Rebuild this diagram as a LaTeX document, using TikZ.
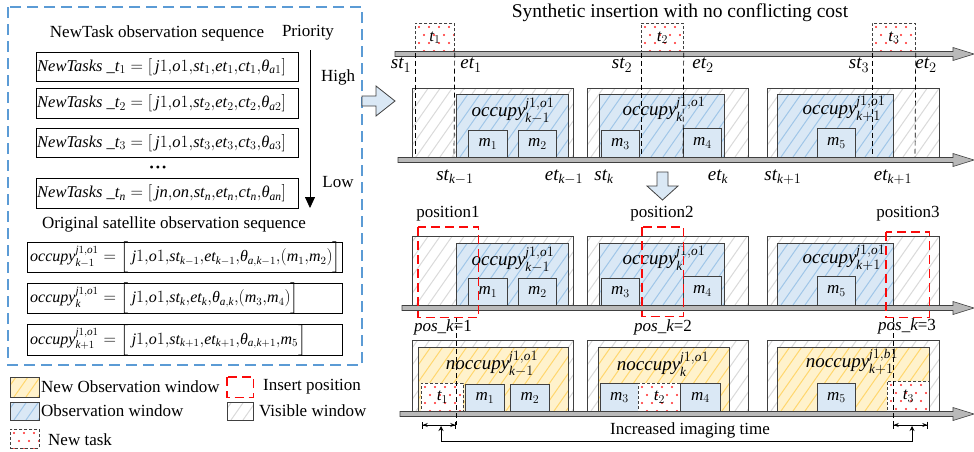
\documentclass[tikz,border=0pt]{standalone}
\usepackage{amsmath}
\usepackage{fontspec}
\setmainfont{Liberation Serif}
\usetikzlibrary{arrows.meta}
\definecolor{obsfill}{RGB}{218,232,245}
\definecolor{obsline}{RGB}{160,198,232}
\definecolor{newfill}{RGB}{255,242,204}
\definecolor{newline}{RGB}{255,215,110}
\definecolor{visline}{RGB}{218,218,218}
\definecolor{outerblue}{RGB}{91,155,213}
\definecolor{arrfill}{RGB}{218,232,245}
\definecolor{edgegray}{RGB}{64,64,64}
\definecolor{insred}{RGB}{250,10,10}
\definecolor{dotred}{RGB}{255,40,40}
\newcommand\vi[1]{\textit{#1}}
\newcommand\cm{{,}}
\newcommand\bxn[7]{\node[#2,anchor=north west,inner sep=0pt,minimum width={(#5-#3)*1pt},minimum height={(#6-#4)*1pt}] (#1) at (#3,#4) {#7};}
\newcommand\hatchbg[6]{%
  \fill[#5] (#1,#2) rectangle (#3,#4);
  \begin{scope}
    \clip (#1,#2) rectangle (#3,#4);
    \foreach \s in {-80,-68,...,190} \draw[#6,line width=1pt] ({#1+\s},{#4}) -- ++(70,-100);
  \end{scope}}
\newcommand\dotbg[4]{%
  \fill[white] (#1,#2) rectangle (#3,#4);
  \begin{scope}
    \clip (#1,#2) rectangle (#3,#4);
    \foreach \r in {0,1,...,4} \foreach \c in {0,1,...,5} \fill[dotred] ({#1+4+\c*10+mod(\r,2)*5},{#2+4+\r*8}) circle (1.1pt);
  \end{scope}}
\newcommand\axisbar[2]{\draw[axisst] ({#1},{#2-2.5}) -- (953,{#2-2.5}) -- (953,{#2-6.5}) -- (974,{#2}) -- (953,{#2+6.5}) -- (953,{#2+2.5}) -- ({#1},{#2+2.5}) -- cycle;}
\tikzset{
  plainbox/.style={draw=black,line width=0.8pt},
  winedge/.style={draw=edgegray,line width=0.7pt},
  mbox/.style={draw=edgegray,line width=0.7pt,fill=obsfill},
  ntask/.style={draw=edgegray,dash pattern=on 3pt off 2pt,line width=0.7pt},
  insarea/.style={inner sep=0pt},
  insline/.style={color=insred,dash pattern=on 9pt off 5pt,line width=1.5pt},
  vdash/.style={draw=black,dash pattern=on 5pt off 3pt,line width=0.7pt},
  axisst/.style={draw=edgegray,fill=gray!55,line width=0.6pt},
  blockarr/.style={draw=edgegray,fill=arrfill,line width=0.8pt},
  big/.style={font=\fontsize{19}{22}\selectfont},
  eqn/.style={anchor=west,inner sep=1pt,font=\fontsize{16.5}{20}\selectfont},
  eqo/.style={anchor=west,inner sep=1pt,font=\fontsize{16}{20}\selectfont},
}
\begin{document}
\begin{tikzpicture}[x=1pt,y=-1pt,font=\fontsize{17}{20}\selectfont]
\useasboundingbox (0,0) rectangle (974,451);
% ---------- left panel ----------
\draw[outerblue,line width=1.3pt,dash pattern=on 11pt off 6pt] (8,7) rectangle (362,365);
\node (ntseq) at (157,33) {NewTask observation sequence};
\node (prio) at (308,33) {Priority};
\bxn{nt1}{plainbox}{36}{52}{298}{81}{}
\bxn{nt2}{plainbox}{36}{88}{298}{118}{}
\bxn{nt3}{plainbox}{36}{128}{298}{157}{}
\bxn{ntn}{plainbox}{36}{178}{298}{208}{}
\node[eqn] (nt1t) at (nt1.west) {$\vi{NewTasks}\ \_\vi{t}_1=[\,\vi{j}1\cm\vi{o}1\cm\vi{st}_1\cm\vi{et}_1\cm\vi{ct}_1\cm\vi{θ}_{\vi{a}1}]$};
\node[eqn] (nt2t) at (nt2.west) {$\vi{NewTasks}\ \_\vi{t}_2=[\,\vi{j}1\cm\vi{o}1\cm\vi{st}_2\cm\vi{et}_2\cm\vi{ct}_2\cm\vi{θ}_{\vi{a}2}]$};
\node[eqn] (nt3t) at (nt3.west) {$\vi{NewTasks}\ \_\vi{t}_3=[\,\vi{j}1\cm\vi{o}1\cm\vi{st}_3\cm\vi{et}_3\cm\vi{ct}_3\cm\vi{θ}_{\vi{a}3}]$};
\node[eqn] (ntnt) at (ntn.west) {$\vi{NewTasks}\ \_\vi{t}_{\vi{n}}=[\,\vi{jn}\cm\vi{on}\cm\vi{st}_{\vi{n}}\cm\vi{et}_{\vi{n}}\cm\vi{ct}_{\vi{n}}\cm\vi{θ}_{\vi{an}}]$};
\node[font=\fontsize{12}{12}\selectfont,inner sep=0pt] (dots) at (158,169) {•\,•\,•};
\coordinate (ptop) at (310,50);
\coordinate (pbot) at (310,208);
\draw[line width=0.8pt,-{Triangle[length=11pt,width=10pt]}] (ptop) -- (pbot);
\node (high) at (338,77) {High};
\node (low) at (338,182) {Low};
\node[inner sep=1pt] (origseq) at (174,224) {Original satellite observation sequence};
\bxn{oc1}{plainbox}{27}{242}{342}{272}{}
\bxn{oc2}{plainbox}{27}{283}{342}{313}{}
\bxn{oc3}{plainbox}{27}{324}{342}{355}{}
\node[eqo] (oc1t) at ([xshift=2pt]oc1.west) {$\vi{occupy}^{\vi{j}1\cm\vi{o}1}_{\vi{k}-1}=\Big[\,\vi{j}1\cm\vi{o}1\cm\vi{st}_{\vi{k}-1}\cm\vi{et}_{\vi{k}-1}\cm\vi{θ}_{\vi{a}\cm\vi{k}-1}\cm(\vi{m}_1\cm\vi{m}_2)\Big]$};
\node[eqo] (oc2t) at ([xshift=2pt]oc2.west) {$\vi{occupy}^{\vi{j}1\cm\vi{o}1}_{\vi{k}}=\Big[\,\vi{j}1\cm\vi{o}1\cm\vi{st}_{\vi{k}}\cm\vi{et}_{\vi{k}}\cm\vi{θ}_{\vi{a}\cm\vi{k}}\cm(\vi{m}_3\cm\vi{m}_4)\Big]$};
\node[eqo] (oc3t) at ([xshift=2pt]oc3.west) {$\vi{occupy}^{\vi{j}1\cm\vi{o}1}_{\vi{k}+1}=\Big[\,\vi{j}1\cm\vi{o}1\cm\vi{st}_{\vi{k}+1}\cm\vi{et}_{\vi{k}+1}\cm\vi{θ}_{\vi{a}\cm\vi{k}+1}\cm\vi{m}_5\Big]$};
% legend
\hatchbg{10}{377}{39}{397}{newfill}{newline}
\bxn{lg1}{winedge}{10}{377}{39}{397}{}
\node[anchor=west,inner sep=1pt] (lg1t) at (40,387) {New Observation window};
\bxn{lg2}{insarea}{227}{377}{253}{397}{}
\node[anchor=west,inner sep=1pt] (lg2t) at (262,387) {Insert position};
\hatchbg{10}{402}{39}{420}{obsfill}{obsline}
\bxn{lg3}{winedge}{10}{402}{39}{420}{}
\node[anchor=west,inner sep=1pt] (lg3t) at (40,411) {Observation window};
\hatchbg{227}{402}{253}{420}{white}{visline}
\bxn{lg4}{winedge}{227}{402}{253}{420}{}
\node[anchor=west,inner sep=1pt] (lg4t) at (258,411) {Visible window};
\dotbg{10}{429}{39}{448}
\bxn{lg5}{ntask}{10}{429}{39}{448}{}
\node[anchor=west,inner sep=1pt] (lg5t) at (47,440) {New task};
% big arrows
\draw[blockarr] (362,96) -- (376,96) -- (376,86) -- (395,101) -- (376,116) -- (376,106) -- (362,106) -- cycle;
\draw[blockarr] (657,172) -- (668,172) -- (668,186) -- (678,186) -- (662.5,200) -- (647,186) -- (657,186) -- cycle;
% ---------- title and top axis ----------
\node[font=\fontsize{19.5}{22}\selectfont] (title) at (680,13) {Synthetic insertion with no conflicting cost};
\dotbg{415}{23}{454}{52}
\dotbg{641}{23}{683}{52}
\dotbg{872}{23}{915}{52}
\bxn{t1}{ntask}{415}{23}{454}{52}{$\vi{t}_1$}
\bxn{t2}{ntask}{641}{23}{683}{52}{$\vi{t}_2$}
\bxn{t3}{ntask}{872}{23}{915}{52}{$\vi{t}_3$}
\axisbar{395}{54}
\node[big] (st1) at (401,65) {$\vi{st}_1$};
\node[big] (et1) at (471,65) {$\vi{et}_1$};
\node[big] (st2) at (622,65) {$\vi{st}_2$};
\node[big] (et2) at (703,65) {$\vi{et}_2$};
\node[big] (st3) at (859,65) {$\vi{st}_3$};
\node[big] (et2b) at (926,65) {$\vi{et}_2$};
% ---------- row 1 ----------
\hatchbg{412}{88}{573}{157}{white}{visline}
\hatchbg{587}{88}{748}{157}{white}{visline}
\hatchbg{767}{88}{939}{157}{white}{visline}
\bxn{wa1}{winedge}{412}{88}{573}{157}{}
\bxn{wa2}{winedge}{587}{88}{748}{157}{}
\bxn{wa3}{winedge}{767}{88}{939}{157}{}
\hatchbg{456}{94}{568}{157}{obsfill}{obsline}
\hatchbg{599}{94}{724}{157}{obsfill}{obsline}
\hatchbg{777}{94}{893}{157}{obsfill}{obsline}
\bxn{oa1}{winedge}{456}{94}{568}{157}{}
\bxn{oa2}{winedge}{599}{94}{724}{157}{}
\bxn{oa3}{winedge}{777}{94}{893}{157}{}
\bxn{ma1}{mbox}{468}{130}{507}{157}{$\vi{m}_1$}
\bxn{ma2}{mbox}{518}{130}{556}{157}{$\vi{m}_2$}
\bxn{ma3}{mbox}{601}{130}{639}{157}{$\vi{m}_3$}
\bxn{ma4}{mbox}{683}{128}{721}{157}{$\vi{m}_4$}
\bxn{ma5}{mbox}{817}{128}{855}{157}{$\vi{m}_5$}
\node[big,inner sep=1pt] (la1) at (513,111) {$\vi{occupy}^{\vi{j}1\cm\vi{o}1}_{\vi{k}-1}$};
\node[big,inner sep=1pt] (la2) at (664,109) {$\vi{occupy}^{\vi{j}1\cm\vi{o}1}_{\vi{k}}$};
\node[big,inner sep=1pt] (la3) at (844,109) {$\vi{occupy}^{\vi{j}1\cm\vi{o}1}_{\vi{k}+1}$};
\draw[vdash] (t1.south west) -- (415,157);
\draw[vdash] (t1.south east) -- (454,157);
\draw[vdash] (t2.south west) -- (641,157);
\draw[vdash] (t2.south east) -- (683,157);
\draw[vdash] (t3.south west) -- (872,157);
\draw[vdash] (t3.south east) -- (915,163);
\axisbar{398}{160}
\node[big] (skm) at (455,177) {$\vi{st}_{\vi{k}-1}$};
\node[big] (ekm) at (564,177) {$\vi{et}_{\vi{k}-1}$};
\node[big] (sk) at (604,177) {$\vi{st}_{\vi{k}}$};
\node[big] (ek) at (718,177) {$\vi{et}_{\vi{k}}$};
\node[big] (skp) at (783,177) {$\vi{st}_{\vi{k}+1}$};
\node[big] (ekp) at (893,177) {$\vi{et}_{\vi{k}+1}$};
% ---------- row 2 ----------
\node (pos1) at (448,214) {position1};
\node (pos2) at (662,214) {position2};
\node (pos3) at (908,214) {position3};
\hatchbg{412}{236}{573}{305}{white}{visline}
\hatchbg{587}{236}{748}{305}{white}{visline}
\hatchbg{767}{236}{939}{305}{white}{visline}
\bxn{wb1}{winedge}{412}{236}{573}{305}{}
\bxn{wb2}{winedge}{587}{236}{748}{305}{}
\bxn{wb3}{winedge}{767}{236}{939}{305}{}
\hatchbg{456}{243}{568}{305}{obsfill}{obsline}
\hatchbg{599}{243}{724}{305}{obsfill}{obsline}
\hatchbg{777}{243}{893}{305}{obsfill}{obsline}
\bxn{ob1}{winedge}{456}{243}{568}{305}{}
\bxn{ob2}{winedge}{599}{243}{724}{305}{}
\bxn{ob3}{winedge}{777}{243}{893}{305}{}
\bxn{mb1}{mbox}{468}{278}{507}{305}{$\vi{m}_1$}
\bxn{mb2}{mbox}{518}{278}{556}{305}{$\vi{m}_2$}
\bxn{mb3}{mbox}{601}{278}{639}{305}{$\vi{m}_3$}
\bxn{mb4}{mbox}{683}{276}{721}{305}{$\vi{m}_4$}
\bxn{mb5}{mbox}{817}{276}{855}{305}{$\vi{m}_5$}
\node[big,inner sep=1pt] (lb1) at (513,260) {$\vi{occupy}^{\vi{j}1\cm\vi{o}1}_{\vi{k}-1}$};
\node[big,inner sep=1pt] (lb2) at (664,258) {$\vi{occupy}^{\vi{j}1\cm\vi{o}1}_{\vi{k}}$};
\node[big,inner sep=1pt] (lb3) at (844,258) {$\vi{occupy}^{\vi{j}1\cm\vi{o}1}_{\vi{k}+1}$};
\axisbar{402}{308}
\bxn{ip1}{insarea}{418}{227}{478}{317}{}
\bxn{ip2}{insarea}{642}{227}{683}{316}{}
\bxn{ip3}{insarea}{886}{232}{929}{317}{}
\node (pk1) at (443,327) {$\vi{pos}\_\vi{k}$=1};
\node (pk2) at (663,327) {$\vi{pos}\_\vi{k}$=2};
\node (pk3) at (907,326) {$\vi{pos}\_\vi{k}$=3};
% ---------- row 3 ----------
\hatchbg{412}{340}{573}{411}{white}{visline}
\hatchbg{587}{340}{748}{411}{white}{visline}
\hatchbg{767}{340}{939}{411}{white}{visline}
\bxn{wc1}{winedge}{412}{340}{573}{411}{}
\bxn{wc2}{winedge}{587}{340}{748}{411}{}
\bxn{wc3}{winedge}{767}{340}{939}{411}{}
\hatchbg{418}{347}{568}{411}{newfill}{newline}
\hatchbg{598}{347}{729}{411}{newfill}{newline}
\hatchbg{777}{347}{929}{411}{newfill}{newline}
\bxn{yc1}{winedge}{418}{347}{568}{411}{}
\bxn{yc2}{winedge}{598}{347}{729}{411}{}
\bxn{yc3}{winedge}{777}{347}{929}{411}{}
\bxn{mc1}{mbox}{465}{384}{504}{411}{$\vi{m}_1$}
\bxn{mc2}{mbox}{510}{384}{549}{411}{$\vi{m}_2$}
\bxn{mc3}{mbox}{600}{383}{638}{411}{$\vi{m}_3$}
\bxn{mc4}{mbox}{680}{383}{720}{411}{$\vi{m}_4$}
\bxn{mc5}{mbox}{817}{383}{855}{411}{$\vi{m}_5$}
\dotbg{421}{383}{463}{411}
\dotbg{638}{383}{680}{411}
\dotbg{887}{381}{929}{411}
\bxn{tc1}{ntask}{421}{383}{463}{411}{$\vi{t}_1$}
\bxn{tc2}{ntask}{638}{383}{680}{411}{$\vi{t}_2$}
\bxn{tc3}{ntask}{887}{381}{929}{411}{$\vi{t}_3$}
\node[big,inner sep=1pt] (lc1) at (492,364) {$\vi{noccupy}^{\vi{j}1\cm\vi{o}1}_{\vi{k}-1}$};
\node[big,inner sep=1pt] (lc2) at (663,364) {$\vi{noccupy}^{\vi{j}1\cm\vi{o}1}_{\vi{k}}$};
\node[big,inner sep=1pt] (lc3) at (852,362) {$\vi{noccupy}^{\vi{j}1\cm\vi{b}1}_{\vi{k}+1}$};
\axisbar{400}{414}
\coordinate (d1a) at (456,317);
\coordinate (d1b) at (456,425);
\coordinate (d3a) at (893,317);
\coordinate (d3b) at (893,425);
\draw[vdash] (d1a) -- (d1b);
\draw[vdash] (d3a) -- (d3b);
\coordinate (ma) at (422,425);
\coordinate (mb) at (928,425);
\draw[line width=0.7pt,{Bar[width=7pt]Stealth[length=5pt,width=4pt]}-{Stealth[length=5pt,width=4pt]Bar[width=7pt]}] (ma) -- (d1b);
\draw[line width=0.7pt,{Bar[width=7pt]Stealth[length=5pt,width=4pt]}-{Stealth[length=5pt,width=4pt]Bar[width=7pt]}] (d3b) -- (mb);
\coordinate (ua) at (441,426);
\coordinate (ub) at (912,426);
\draw[line width=0.7pt,{Stealth[length=5pt,width=5pt]}-{Stealth[length=5pt,width=5pt]}] (ua) -- (441,441) -- (912,441) -- (ub);
\node (inc) at (690,430) {Increased imaging time};
% ---------- red insert-position frames, one path, drawn last ----------
\draw[insline] (lg2.north west) rectangle (lg2.south east)
  (ip1.north west) rectangle (ip1.south east)
  (ip2.north west) rectangle (ip2.south east)
  (ip3.north west) rectangle (ip3.south east);
\end{tikzpicture}
\end{document}
